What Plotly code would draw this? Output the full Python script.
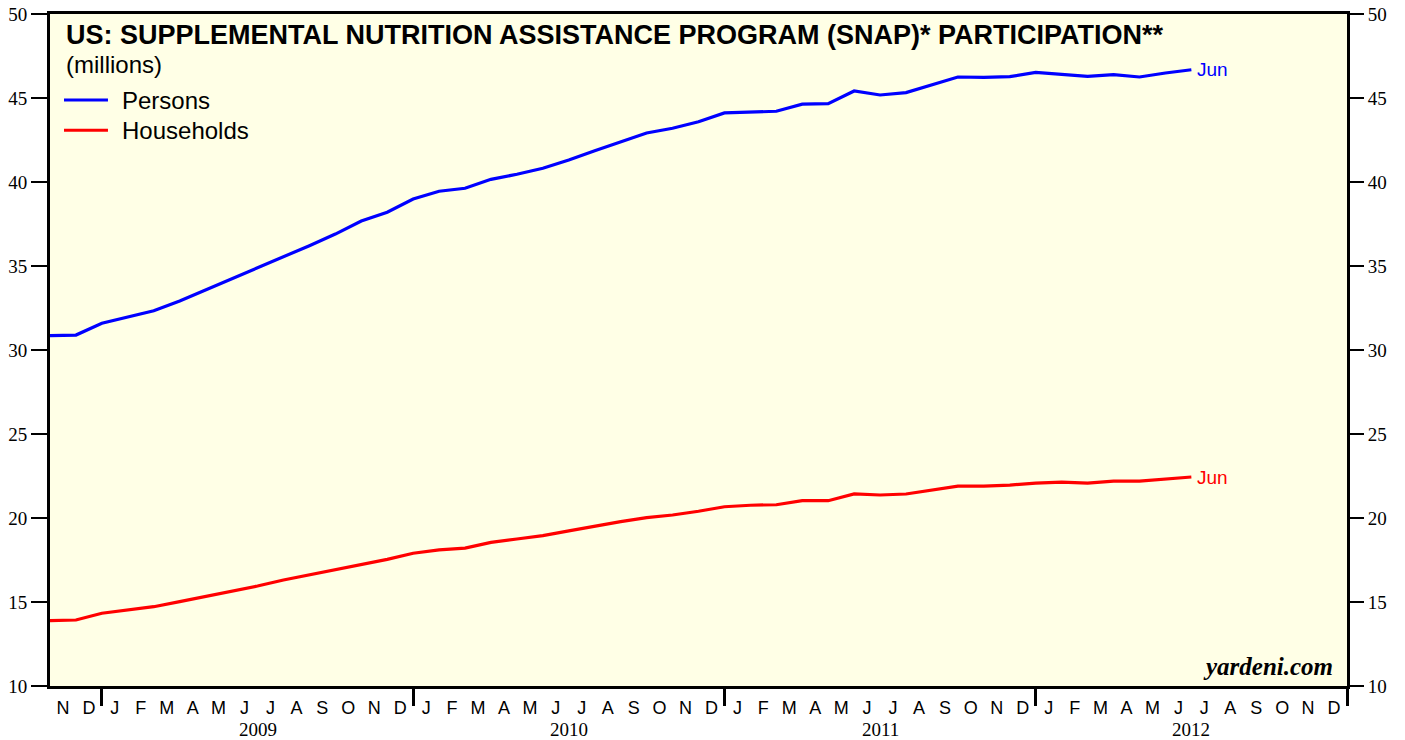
import plotly.graph_objects as go
import pandas as pd

# ---------------- data ----------------
months = [str(p) for p in pd.period_range("2008-10", "2012-06", freq="M")]

persons = [30.85, 30.89, 31.59, 31.96, 32.34, 32.92, 33.57, 34.21, 34.88, 35.55,
           36.21, 36.90, 37.68, 38.20, 38.99, 39.45, 39.63, 40.16, 40.46, 40.82,
           41.31, 41.86, 42.38, 42.92, 43.20, 43.59, 44.11, 44.18, 44.21, 44.63,
           44.66, 45.42, 45.18, 45.32, 45.77, 46.25, 46.23, 46.27, 46.53, 46.43,
           46.29, 46.39, 46.25, 46.49, 46.68]

households = [13.89, 13.93, 14.33, 14.52, 14.72, 15.02, 15.32, 15.61, 15.95, 16.31,
              16.61, 16.93, 17.24, 17.54, 17.90, 18.10, 18.21, 18.55, 18.75, 18.95,
              19.23, 19.52, 19.78, 20.02, 20.18, 20.40, 20.67, 20.76, 20.79, 21.03,
              21.03, 21.43, 21.37, 21.43, 21.67, 21.90, 21.90, 21.96, 22.08, 22.14,
              22.08, 22.20, 22.20, 22.32, 22.44]

axis_months = [str(p) for p in pd.period_range("2008-11", "2012-12", freq="M")]
month_letters = ["N", "D", "J", "F", "M", "A", "M", "J", "J", "A", "S", "O", "N", "D",
                 "J", "F", "M", "A", "M", "J", "J", "A", "S", "O", "N", "D",
                 "J", "F", "M", "A", "M", "J", "J", "A", "S", "O", "N", "D",
                 "J", "F", "M", "A", "M", "J", "J", "A", "S", "O", "N", "D"]
years = ["2009", "2010", "2011", "2012"]
y_ticks = [10, 15, 20, 25, 30, 35, 40, 45, 50]

series_names = ["Persons", "Households"]
series_colors = ["#0000FF", "#FF0000"]

title = "US: SUPPLEMENTAL NUTRITION ASSISTANCE PROGRAM (SNAP)* PARTICIPATION**"
subtitle = "(millions)"

# ---------------- positions ----------------
origin = pd.Period("2008-11", freq="M")
# data plotted at month end: month index + 1
x_data = [(pd.Period(m, freq="M") - origin).n + 1 for m in months]
x_month_centers = [(pd.Period(m, freq="M") - origin).n + 0.5 for m in axis_months]
x_year_bounds = [(pd.Period(f"{y}-01", freq="M") - origin).n for y in years] + [len(axis_months)]
x_year_centers = [(pd.Period(f"{y}-07", freq="M") - origin).n for y in years]

serif = "Liberation Serif, Times New Roman, serif"
sans = "Liberation Sans, Arial, sans-serif"
narrow = "Liberation Sans Narrow, Arial Narrow, Liberation Sans, sans-serif"

fig = go.Figure()
for name, vals, col in zip(series_names, [persons, households], series_colors):
    fig.add_trace(go.Scatter(x=x_data, y=vals, mode="lines", name=name,
                             line=dict(color=col, width=3.2), showlegend=False,
                             hoverinfo="x+y"))
# invisible trace for right axis
fig.add_trace(go.Scatter(x=[x_data[0]], y=[persons[0]], yaxis="y2", mode="markers",
                         marker=dict(opacity=0), showlegend=False, hoverinfo="skip"))

annotations = []
# Title
annotations.append(dict(text="<b>" + title + "</b>", xref="paper", yref="paper",
                        x=0.011, y=0.994, xanchor="left", yanchor="top", showarrow=False,
                        font=dict(family=sans, size=27, color="black")))
annotations.append(dict(text=subtitle, xref="paper", yref="paper",
                        x=0.011, y=0.948, xanchor="left", yanchor="top", showarrow=False,
                        font=dict(family=sans, size=24, color="black")))
# Manual legend
shapes = []
leg_y = [0.872, 0.827]
for name, col, ly in zip(series_names, series_colors, leg_y):
    shapes.append(dict(type="line", xref="paper", yref="paper", x0=0.0108, x1=0.0447,
                       y0=ly, y1=ly, line=dict(color=col, width=3.2)))
    annotations.append(dict(text=name, xref="paper", yref="paper", x=0.054, y=ly,
                            xanchor="left", yanchor="middle", showarrow=False,
                            font=dict(family=sans, size=24, color="black")))
# End labels
for vals, col in zip([persons, households], series_colors):
    annotations.append(dict(text=pd.Period(months[-1], freq="M").strftime("%b"),
                            x=x_data[-1], y=vals[-1], xanchor="left", yanchor="middle",
                            xshift=4, showarrow=False,
                            font=dict(family=sans, size=19, color=col)))
# Year labels
for yr, xc in zip(years, x_year_centers):
    annotations.append(dict(text=yr, x=xc, xref="x", yref="paper", y=0, yanchor="top",
                            yshift=-31, showarrow=False,
                            font=dict(family=serif, size=19, color="black")))
# Source
annotations.append(dict(text="<b><i>yardeni.com</i></b>", xref="paper", yref="paper",
                        x=0.991, y=0.006, xanchor="right", yanchor="bottom", showarrow=False,
                        font=dict(family=serif, size=25, color="black")))

fig.update_layout(
    width=1405, height=740,
    margin=dict(l=50, r=58, t=14, b=54, autoexpand=False),
    paper_bgcolor="white",
    plot_bgcolor="#FFFFE6",
    showlegend=False,
    annotations=annotations,
    shapes=shapes,
    xaxis=dict(range=[0, len(axis_months)], tickmode="array", automargin=False,
               tickvals=x_month_centers, ticktext=month_letters,
               ticks="outside", ticklen=1, tickcolor="rgba(0,0,0,0)",
               ticklabelstandoff=2,
               tickfont=dict(family=narrow, size=18, color="black"),
               showline=True, linecolor="black", linewidth=3, mirror=True,
               showgrid=False, zeroline=False,
               minor=dict(tickmode="array", tickvals=x_year_bounds, ticks="outside",
                          ticklen=17, tickwidth=3, tickcolor="black", showgrid=False)),
    yaxis=dict(range=[10, 50], tickmode="array", tickvals=y_ticks, automargin=False,
               ticks="outside", ticklen=16, tickwidth=1.5, tickcolor="black",
               tickfont=dict(family=serif, size=19, color="black"),
               showline=True, linecolor="black", linewidth=3, mirror=True,
               showgrid=False, zeroline=False),
    yaxis2=dict(range=[10, 50], overlaying="y", side="right", tickmode="array",
                automargin=False,
                tickvals=y_ticks, ticks="outside", ticklen=16, tickwidth=1.5,
                tickcolor="black",
                tickfont=dict(family=serif, size=19, color="black"),
                showline=False, showgrid=False, zeroline=False),
)

fig.write_html("out.html", config={"displayModeBar": False},
               post_script="document.body.style.margin='0px';")
